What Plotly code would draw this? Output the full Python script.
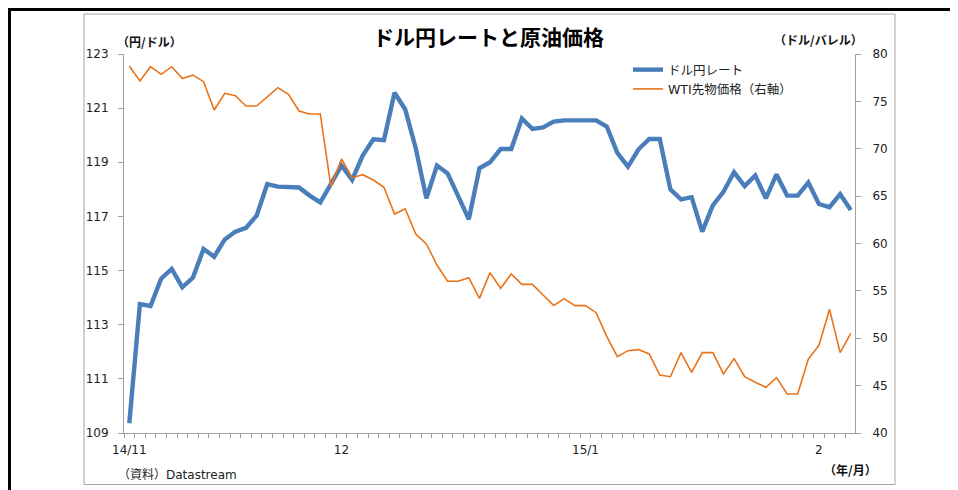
import plotly.graph_objects as go

# --- data (business days Nov 2014 - early Feb 2015) ---
usd_jpy = [109.36, 113.76, 113.69, 114.70, 115.06, 114.38, 114.74, 115.80, 115.51, 116.15,
           116.44, 116.58, 117.03, 118.19, 118.10, 118.08, 118.07, 117.77, 117.52, 118.19,
           118.88, 118.35, 119.25, 119.85, 119.82, 121.57, 120.96, 119.52, 117.67, 118.88,
           118.59, 117.75, 116.89, 118.78, 119.00, 119.49, 119.49, 120.62, 120.23, 120.29,
           120.50, 120.55, 120.55, 120.55, 120.55, 120.32, 119.35, 118.84, 119.48, 119.86,
           119.86, 118.00, 117.63, 117.71, 116.44, 117.41, 117.91, 118.63, 118.12, 118.51,
           117.67, 118.55, 117.77, 117.77, 118.25, 117.46, 117.34, 117.82, 117.24]

wti = [78.73, 77.15, 78.66, 77.85, 78.66, 77.40, 77.78, 77.08, 74.09, 75.85,
       75.60, 74.51, 74.51, 75.50, 76.45, 75.74, 73.98, 73.67, 73.67, 66.00,
       68.92, 66.95, 67.26, 66.70, 65.93, 63.11, 63.67, 61.00, 59.95, 57.73,
       56.01, 56.01, 56.39, 54.21, 56.92, 55.27, 56.78, 55.69, 55.69, 54.56,
       53.47, 54.18, 53.44, 53.44, 52.70, 50.20, 48.05, 48.69, 48.80, 48.34,
       46.12, 45.94, 48.48, 46.40, 48.48, 48.48, 46.23, 47.85, 45.94, 45.35,
       44.82, 45.84, 44.12, 44.12, 47.81, 49.25, 53.05, 48.48, 50.52]

day_index = list(range(len(usd_jpy)))
tick_positions = [0, 20, 43, 65]
tick_labels = ["14/11", "12", "15/1", "2"]

series_names = ["ドル円レート", "WTI先物価格（右軸）"]
title_text = "ドル円レートと原油価格"

# --- layout geometry (page pixels; the page body adds an 8px offset) ---
OFF = 8
PAGE_W, PAGE_H = 958, 490
W, H = PAGE_W - OFF, PAGE_H - OFF
L, R, T, B = 124, 855, 54, 433
pw, ph = R - L, B - T


def px(x):
    return (x - L) / pw


def py(y):
    return (B - y) / ph


FONT = "DejaVu Sans, Noto Sans CJK JP, sans-serif"
CJK = "Noto Sans CJK JP, DejaVu Sans, sans-serif"
GRAY = "#A0A0A0"
BLUE = "#4A7EBB"
ORANGE = "#E8731A"

fig = go.Figure()
fig.add_trace(go.Scatter(x=day_index, y=usd_jpy, name=series_names[0], mode="lines",
                         line=dict(color=BLUE, width=4.4), yaxis="y"))
fig.add_trace(go.Scatter(x=day_index, y=wti, name=series_names[1], mode="lines",
                         line=dict(color=ORANGE, width=1.6), yaxis="y2"))

axis_common = dict(showline=True, linecolor=GRAY, linewidth=1, showgrid=False, zeroline=False,
                   ticks="outside", ticklen=5, tickcolor=GRAY,
                   tickfont=dict(family=FONT, size=12, color="#222222"))

fig.update_layout(
    width=W, height=H,
    margin=dict(l=L - OFF, r=PAGE_W - R, t=T - OFF, b=PAGE_H - B),
    paper_bgcolor="white", plot_bgcolor="white",
    xaxis=dict(range=[-0.5, 68.4], tickmode="array", tickvals=tick_positions, ticktext=tick_labels,
               showline=True, linecolor=GRAY, showgrid=False, zeroline=False, ticks="",
               ticklabelstandoff=6,
               tickfont=dict(family=FONT, size=12, color="#222222"),
               minor=dict(ticks="outside", tickmode="linear", tick0=-0.5, dtick=1,
                          ticklen=4, tickcolor=GRAY, showgrid=False)),
    yaxis=dict(range=[109, 123], dtick=2, tick0=109, ticklabelstandoff=7, **axis_common),
    yaxis2=dict(range=[40, 80], dtick=5, tick0=40, overlaying="y", side="right",
                ticklabelstandoff=9, **axis_common),
    legend=dict(x=px(628), y=py(55), xanchor="left", yanchor="top",
                bgcolor="rgba(0,0,0,0)", tracegroupgap=0,
                font=dict(family=FONT, size=12.5, color="#222222")),
    showlegend=True,
)

annotations = [
    dict(text="<b>" + title_text + "</b>", x=px(488), y=py(36), font=dict(family=CJK, size=21, color="black"),
         xanchor="center", yanchor="middle"),
    dict(text="<b>（円/ドル）</b>", x=px(149), y=py(41.5), font=dict(family=CJK, size=12, color="#111111"),
         xanchor="center", yanchor="middle"),
    dict(text="<b>（ドル/バレル）</b>", x=px(818), y=py(39.5), font=dict(family=CJK, size=12, color="#111111"),
         xanchor="center", yanchor="middle"),
    dict(text="<b>（年/月）</b>", x=px(879), y=py(469), font=dict(family=CJK, size=12, color="#111111"),
         xanchor="right", yanchor="middle"),
    dict(text="（資料）Datastream", x=px(116), y=py(474.5), font=dict(family=FONT, size=12, color="#222222"),
         xanchor="left", yanchor="middle"),
]
for a in annotations:
    a.update(xref="paper", yref="paper", showarrow=False)
fig.update_layout(annotations=annotations)

shapes = [
    dict(type="rect", x0=px(84), x1=px(895), y0=py(484.5), y1=py(14),
         line=dict(color="#A6A6A6", width=1)),
    dict(type="line", x0=px(8), x1=px(958), y0=py(9.5), y1=py(9.5), line=dict(color="black", width=3)),
    dict(type="line", x0=px(9.5), x1=px(9.5), y0=py(8), y1=py(490), line=dict(color="black", width=3)),
]
for s in shapes:
    s.update(xref="paper", yref="paper", layer="above")
fig.update_layout(shapes=shapes)

fig.write_html("out.html")
